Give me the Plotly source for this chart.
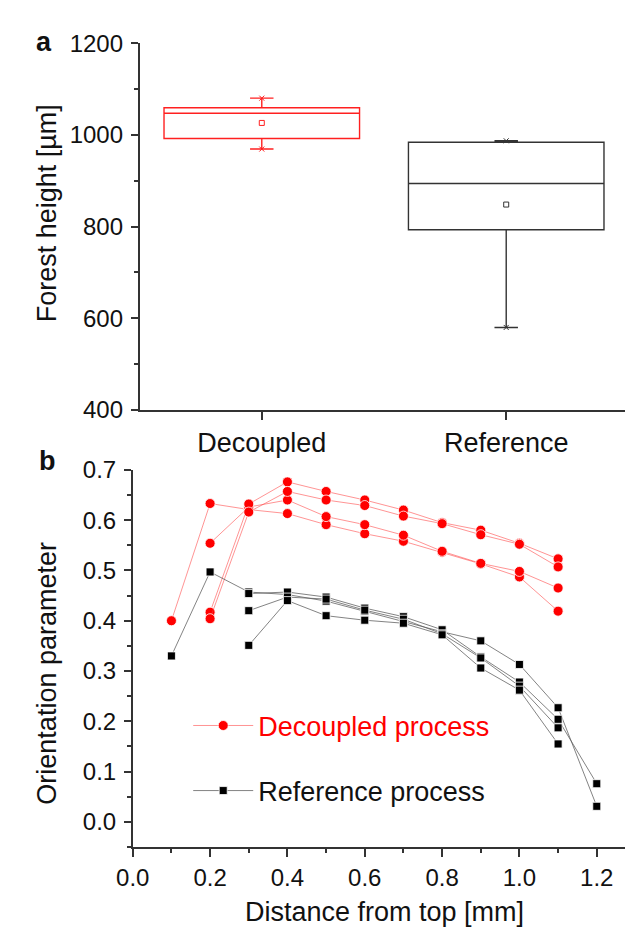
import plotly.graph_objects as go

# ---------- panel a: forest height box summary ----------
categories = ["Decoupled", "Reference"]
cat_pos = [1, 2]
whisker_low = [969, 580]
box_q1 = [992, 793]
box_median = [1047, 894]
box_q3 = [1059, 984]
whisker_high = [1080, 987]
box_mean = [1026, 848]
box_colors = ["#ff2020", "#333333"]

# ---------- panel b: orientation parameter profiles ----------
distance_mm = [0.1, 0.2, 0.3, 0.4, 0.5, 0.6, 0.7, 0.8, 0.9, 1.0, 1.1, 1.2]

decoupled_1 = [0.400, 0.633, 0.621, 0.613, 0.591, 0.573, 0.558, 0.536, 0.513, 0.487, 0.419]
decoupled_2 = [0.554, 0.626, 0.640, 0.607, 0.591, 0.570, 0.538, 0.514, 0.498, 0.465]
decoupled_3 = [0.417, 0.632, 0.676, 0.657, 0.640, 0.620, 0.595, 0.580, 0.554, 0.523]
decoupled_4 = [0.404, 0.616, 0.657, 0.640, 0.629, 0.608, 0.593, 0.571, 0.552, 0.507]

reference_1 = [0.330, 0.497, 0.457, 0.452, 0.439, 0.419, 0.398, 0.378, 0.360, 0.313, 0.227, 0.031]
reference_2 = [0.454, 0.457, 0.447, 0.425, 0.408, 0.382, 0.328, 0.278, 0.204, 0.076]
reference_3 = [0.420, 0.447, 0.443, 0.421, 0.403, 0.374, 0.326, 0.270, 0.187]
reference_4 = [0.351, 0.440, 0.410, 0.401, 0.395, 0.372, 0.306, 0.262, 0.155]

decoupled_series = [(0, decoupled_1), (1, decoupled_2), (1, decoupled_3), (1, decoupled_4)]
reference_series = [(0, reference_1), (2, reference_2), (2, reference_3), (2, reference_4)]

FONT = "Liberation Sans, Arial, sans-serif"
AXIS = "#333333"
W, H = 625, 940

fig = go.Figure()

# box plots
for i, name in enumerate(categories):
    c = box_colors[i]
    fig.add_trace(go.Box(
        x=[cat_pos[i]], q1=[box_q1[i]], median=[box_median[i]], q3=[box_q3[i]],
        lowerfence=[whisker_low[i]], upperfence=[whisker_high[i]],
        width=0.8, whiskerwidth=0.12, boxpoints=False,
        line=dict(color=c, width=1.4), fillcolor="rgba(255,255,255,0)",
        showlegend=False, xaxis="x", yaxis="y", name=name,
    ))
    # mean marker
    fig.add_trace(go.Scatter(
        x=[cat_pos[i]], y=[box_mean[i]], mode="markers",
        marker=dict(symbol="square-open", size=5, color=c, line=dict(width=1, color=c)),
        showlegend=False, xaxis="x", yaxis="y",
    ))
    # min / max markers at whisker ends
    fig.add_trace(go.Scatter(
        x=[cat_pos[i], cat_pos[i]], y=[whisker_low[i], whisker_high[i]], mode="markers",
        marker=dict(symbol="x-thin-open", size=5, color=c, line=dict(width=1, color=c)),
        showlegend=False, xaxis="x", yaxis="y",
    ))

# profile lines
for k, (start, ys) in enumerate(decoupled_series):
    fig.add_trace(go.Scatter(
        x=distance_mm[start:start + len(ys)], y=ys, mode="lines+markers",
        line=dict(color="rgba(255,60,60,0.55)", width=1),
        marker=dict(symbol="circle", size=10, color="#ff0000", line=dict(color="white", width=0.8)),
        name='<span style="color:#ff0000">Decoupled process</span>',
        legendgroup="dec", showlegend=(k == 0), legend="legend",
        xaxis="x2", yaxis="y2",
    ))
for k, (start, ys) in enumerate(reference_series):
    fig.add_trace(go.Scatter(
        x=distance_mm[start:start + len(ys)], y=ys, mode="lines+markers",
        line=dict(color="rgba(90,90,90,0.75)", width=1),
        marker=dict(symbol="square", size=8, color="#000000", line=dict(color="white", width=0.8)),
        name="Reference process",
        legendgroup="ref", showlegend=(k == 0), legend="legend2",
        xaxis="x2", yaxis="y2",
    ))


def py(y_px):
    return 1 - y_px / H


axis_common = dict(
    showline=True, linecolor=AXIS, linewidth=1.5, showgrid=False, zeroline=False,
    ticks="outside", tickcolor=AXIS, tickwidth=1.5,
    tickfont=dict(family=FONT, size=24, color="#111111"),
)

fig.update_layout(
    width=W, height=H,
    margin=dict(l=0, r=0, t=0, b=0),
    paper_bgcolor="white", plot_bgcolor="white",
    font=dict(family=FONT, color="#111111"),
    xaxis=dict(
        axis_common, domain=[126 / W, 1], range=[0.5, 2.486], anchor="y",
        tickvals=cat_pos, ticktext=categories, ticklen=8,
        tickfont=dict(family=FONT, size=27, color="#111111"),
    ),
    yaxis=dict(
        axis_common, domain=[py(407.7), py(30)], range=[400, 1200], anchor="x",
        tickvals=[400, 600, 800, 1000, 1200], ticklen=7, ticklabelstandoff=3,
        minor=dict(dtick=100, tick0=400, ticks="outside", ticklen=4, tickcolor=AXIS, tickwidth=1.5),
    ),
    xaxis2=dict(
        axis_common, domain=[119 / W, 1], range=[0, 1.273], anchor="y2",
        tick0=0, dtick=0.2, tickformat=".1f", ticklen=8,
        minor=dict(dtick=0.1, tick0=0, ticks="outside", ticklen=4, tickcolor=AXIS, tickwidth=1.5),
    ),
    yaxis2=dict(
        axis_common, domain=[py(857.7), py(469.3)], range=[-0.05, 0.7], anchor="x2",
        tick0=0, dtick=0.1, tickformat=".1f", ticklen=7, ticklabelstandoff=3,
        minor=dict(dtick=0.05, tick0=0, ticks="outside", ticklen=4, tickcolor=AXIS, tickwidth=1.5),
    ),
    legend=dict(
        x=176 / W, y=py(733), xanchor="left", yanchor="middle",
        bgcolor="rgba(0,0,0,0)", itemwidth=60,
        font=dict(family=FONT, size=27, color="#ff0000"),
    ),
    legend2=dict(
        x=176 / W, y=py(800), xanchor="left", yanchor="middle",
        bgcolor="rgba(0,0,0,0)", itemwidth=60,
        font=dict(family=FONT, size=27, color="#111111"),
    ),
)

annotations = [
    dict(text="<b>a</b>", x=28 / W, y=py(29), size=27, angle=0),
    dict(text="<b>b</b>", x=31 / W, y=py(460), size=27, angle=0),
    dict(text="Forest height [µm]", x=31 / W, y=py(205), size=27, angle=-90),
    dict(text="Orientation parameter", x=31 / W, y=py(679), size=27, angle=-90),
    dict(text="Distance from top [mm]", x=378 / W, y=py(925), size=27, angle=0),
]
for a in annotations:
    fig.add_annotation(
        text=a["text"], x=a["x"], y=a["y"], xref="paper", yref="paper",
        xanchor="center", yanchor="middle", showarrow=False, textangle=a["angle"],
        font=dict(family=FONT, size=a["size"], color="#111111"),
    )

# page without body margin so the figure sits flush in the window
fig.write_html("out.html", post_script="document.body.style.margin='0';")
